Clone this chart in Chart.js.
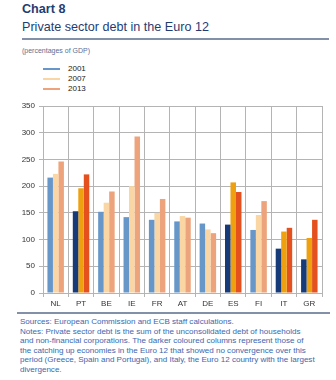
<!DOCTYPE html>
<html>
<head>
<meta charset="utf-8">
<script src="https://cdn.jsdelivr.net/npm/chart.js@4"></script>
<style>
    body { margin: 0; width: 336px; height: 380px; background: #fff; font-family: "Liberation Sans", Arial, sans-serif; position: relative; overflow: hidden; }
    .titulo { position: absolute; left: 22px; color: #1f3d73; font-size: 12.6px; }
    #regla1 { position: absolute; left: 22px; top: 38px; width: 307px; height: 2px; background: #8391a8; }
    #regla2 { position: absolute; left: 17px; top: 312px; width: 313px; height: 2px; background: #8391a8; }
    #sub { position: absolute; left: 22px; top: 47px; font-size: 7px; color: #5a6f95; }
    #leyenda { position: absolute; left: 43px; top: 64px; font-size: 8px; color: #222; }
    .item { height: 10px; line-height: 10px; }
    .item span { display: inline-block; width: 17px; height: 2px; vertical-align: middle; margin-right: 8px; }
    #notas { position: absolute; left: 20px; top: 317px; white-space: nowrap; font-size: 8.05px; line-height: 9.6px; color: #3a68b0; }
    #contenedor { position: absolute; left: 0; top: 96px; width: 336px; height: 216px; }
</style>
</head>
<body>
<div class="titulo" style="top:2px;font-weight:bold;">Chart 8</div>
<div class="titulo" style="top:20px;">Private sector debt in the Euro 12</div>
<div id="regla1"></div>
<div id="sub">(percentages of GDP)</div>
<div id="leyenda"></div>
<div id="contenedor"><canvas id="grafico"></canvas></div>
<div id="regla2"></div>
<div id="notas">Sources: European Commission and ECB staff calculations.<br>Notes: Private sector debt is the sum of the unconsolidated debt of households<br>and non-financial corporations. The darker coloured columns represent those of<br>the catching up economies in the Euro 12 that showed no convergence over this<br>period (Greece, Spain and Portugal), and Italy, the Euro 12 country with the largest<br>divergence.</div>

<script>
const paises = ['NL', 'PT', 'BE', 'IE', 'FR', 'AT', 'DE', 'ES', 'FI', 'IT', 'GR'];
const oscuros = ['PT', 'ES', 'IT', 'GR'];
const anios = ['2001', '2007', '2013'];
const deuda2001 = [216, 153, 152, 142, 137, 134, 130, 128, 118, 83, 63];
const deuda2007 = [223, 196, 169, 200, 150, 144, 119, 207, 146, 115, 103];
const deuda2013 = [246, 222, 190, 293, 176, 141, 112, 189, 172, 122, 137];
const ticksY = [0, 50, 100, 150, 200, 250, 300, 350];

const coloresClaros = ['#6796c9', '#f9d6a4', '#eda47c'];
const coloresOscuros = ['#173a78', '#eea00f', '#e4511f'];

const leyenda = document.getElementById('leyenda');
anios.forEach((a, i) => {
    leyenda.innerHTML += `<div class="item"><span style="background:${coloresClaros[i]}"></span>${a}</div>`;
});

const series = [deuda2001, deuda2007, deuda2013];
const datasets = series.map((valores, i) => ({
    label: anios[i],
    data: valores,
    backgroundColor: paises.map(p => oscuros.includes(p) ? coloresOscuros[i] : coloresClaros[i]),
    borderWidth: 0,
    categoryPercentage: 0.65,
    barPercentage: 1.0
}));

new Chart(document.getElementById('grafico'), {
    type: 'bar',
    data: { labels: paises, datasets: datasets },
    options: {
        responsive: true,
        maintainAspectRatio: false,
        animation: false,
        layout: { padding: { top: 10, right: 14, left: 0, bottom: 0 } },
        plugins: { legend: { display: false }, tooltip: { enabled: false } },
        scales: {
            x: {
                grid: { color: '#b4b4b4', lineWidth: 1, drawTicks: true, tickLength: 4, offset: true },
                border: { color: '#b4b4b4' },
                ticks: { color: '#333', font: { size: 8, family: 'Liberation Sans' }, padding: 2 },
                afterFit: s => { s.height = 19; }
            },
            y: {
                min: 0, max: 350,
                afterBuildTicks: s => { s.ticks = ticksY.map(v => ({ value: v })); },
                grid: { color: '#b4b4b4', lineWidth: 1, tickLength: 4 },
                border: { color: '#b4b4b4' },
                ticks: { color: '#333', font: { size: 8, family: 'Liberation Sans' }, padding: 4 },
                afterFit: s => { s.width = 43; }
            }
        }
    },
    plugins: [{
        id: 'bordeDerecho',
        afterDraw(chart) {
            const { ctx, chartArea } = chart;
            ctx.save();
            ctx.strokeStyle = '#b4b4b4';
            ctx.lineWidth = 1;
            ctx.beginPath();
            ctx.moveTo(chartArea.right + 0.5, chartArea.top);
            ctx.lineTo(chartArea.right + 0.5, chartArea.bottom);
            ctx.stroke();
            ctx.restore();
        }
    }]
});
</script>
</body>
</html>
